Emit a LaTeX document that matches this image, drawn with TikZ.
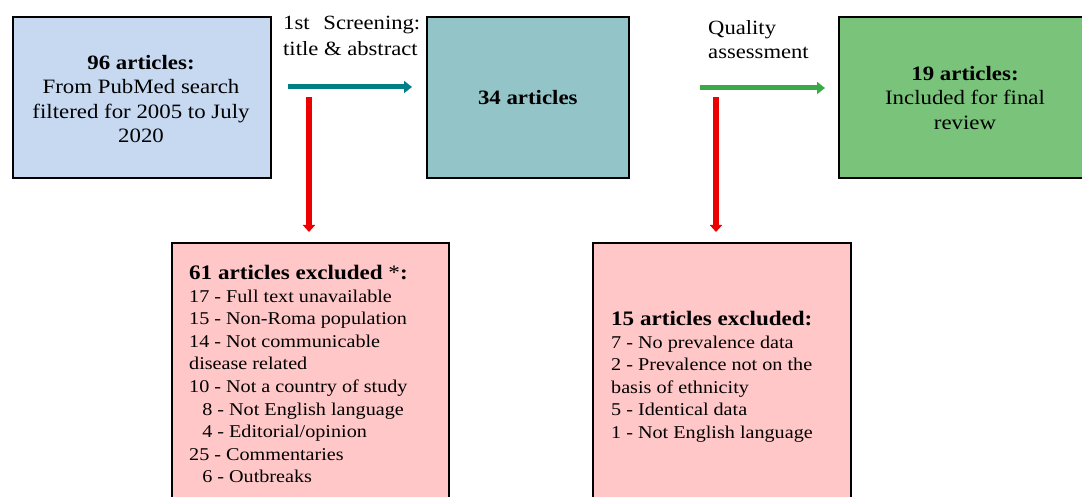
\documentclass[tikz,border=0pt]{standalone}
\usepackage{fontspec}
\setmainfont{Liberation Serif}[FakeStretch=1.12]
\usetikzlibrary{arrows.meta}
\definecolor{cblue}{RGB}{198,217,241}
\definecolor{cteal}{RGB}{147,196,200}
\definecolor{cgreen}{RGB}{121,196,122}
\definecolor{cpink}{RGB}{255,199,199}
\definecolor{ateal}{RGB}{0,128,134}
\definecolor{agreen}{RGB}{58,170,72}
\definecolor{ared}{RGB}{236,0,0}
\newcommand{\hdr}[1]{{\fontsize{20.6}{24}\selectfont\bfseries #1}}
\tikzset{
  box/.style={draw=black, line width=1.6pt, rectangle, inner sep=0pt},
  boxtext/.style={align=center, inner sep=0pt, font=\fontsize{20.4}{24.5}\selectfont},
  listtext/.style={align=left, inner sep=0pt, anchor=north west, font=\fontsize{18}{22.6}\selectfont},
  lbl/.style={align=left, inner sep=0pt, anchor=north west, font=\fontsize{20.2}{26}\selectfont},
  harrow/.style={line width=5pt, -{Triangle[length=8pt,width=12pt]}},
  varrow/.style={draw=ared, line width=5.5pt, -{Triangle[length=7pt,width=12pt]}, shorten >=10pt}
}
\begin{document}
\begin{tikzpicture}[x=1pt,y=-1pt]
\useasboundingbox (0,0) rectangle (1082,497);
\clip (0,0) rectangle (1082,497);
% top boxes
\node[box, fill=cblue, minimum width=258pt, minimum height=161pt, anchor=north west] (b1) at (12,16) {};
\node[box, fill=cteal, minimum width=202pt, minimum height=161pt, anchor=north west] (b2) at (426,16) {};
\node[box, fill=cgreen, minimum width=256pt, minimum height=161pt, anchor=north west] (b3) at (838,16) {};
% bottom boxes
\node[box, fill=cpink, minimum width=277pt, minimum height=280pt, anchor=north west] (e1) at (171,242) {};
\node[box, fill=cpink, minimum width=258pt, minimum height=280pt, anchor=north west] (e2) at (592,242) {};
% box texts
\node[boxtext] (t1) at (141,99) {\textbf{96 articles:}\\From PubMed search\\filtered for 2005 to July\\2020};
\node[boxtext] (t2) at (b2.center) {\textbf{34 articles}};
\node[boxtext] (t3) at (965,98) {\textbf{19 articles:}\\Included for final\\review};
\node[listtext] (x1) at (189,265) {\hdr{61 articles excluded {\mdseries *}:}\\
17 - Full text unavailable\\
15 - Non-Roma population\\
14 - Not communicable\\
disease related\\
10 - Not a country of study\\
\phantom{1}\,8 - Not English language\\
\phantom{1}\,4 - Editorial/opinion\\
25 - Commentaries\\
\phantom{1}\,6 - Outbreaks};
\node[listtext] (x2) at (611,311) {\hdr{15 articles excluded:}\\
7 - No prevalence data\\
2 - Prevalence not on the\\
basis of ethnicity\\
5 - Identical data\\
1 - Not English language};
% labels
\node[lbl] (l1) at (283,16) {\makebox[137pt][s]{1st Screening:}\\title \& abstract};
\node[lbl] (l2) at (708,20) {Quality\\[-2pt]assessment};
% connectors
\coordinate (s1) at (309,97);
\coordinate (s2) at (716,97);
\draw[harrow, draw=ateal, fill=ateal, shorten <=16pt, shorten >=14pt] (b1.east |- 0,87) -- (b2.west |- 0,87);
\draw[harrow, draw=agreen, fill=agreen, shorten <=70pt, shorten >=13pt] (b2.east |- 0,88) -- (b3.west |- 0,88);
\draw[varrow] (s1) -- (s1 |- e1.north);
\draw[varrow] (s2) -- (s2 |- e2.north);
\end{tikzpicture}
\end{document}
